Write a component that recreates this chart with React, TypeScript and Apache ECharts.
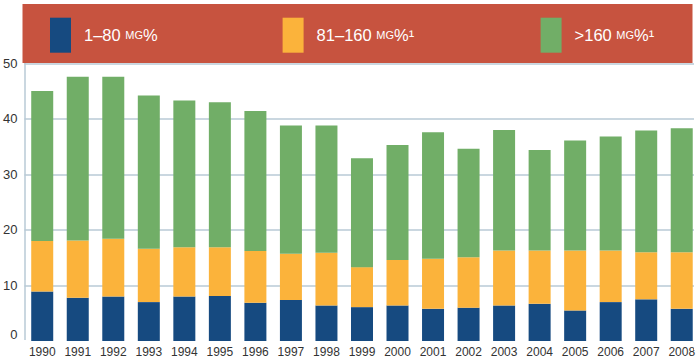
import React, { useEffect, useRef } from "react";
import * as echarts from "echarts";

const years = ["1990","1991","1992","1993","1994","1995","1996","1997","1998","1999","2000","2001","2002","2003","2004","2005","2006","2007","2008"];
// cumulative tops
const blueTop = [8.9,7.8,8.0,7.0,8.0,8.1,6.9,7.4,6.4,6.1,6.4,5.8,6.0,6.4,6.7,5.5,7.0,7.5,5.8];
const orangeTop = [18.0,18.1,18.4,16.6,16.9,16.9,16.2,15.7,15.9,13.3,14.6,14.8,15.1,16.3,16.3,16.3,16.3,16.0,16.0];
const greenTop = [45.0,47.6,47.6,44.2,43.3,43.0,41.4,38.8,38.8,32.9,35.3,37.6,34.6,38.0,34.4,36.1,36.8,37.9,38.3];

const low = blueTop;
const mid = orangeTop.map((v, i) => +(v - blueTop[i]).toFixed(1));
const high = greenTop.map((v, i) => +(v - orangeTop[i]).toFixed(1));

const seriesNames = ["1–80 mg%", "81–160 mg%¹", ">160 mg%¹"];
const legendRich: Record<string, string> = {
  "1–80 mg%": "{a|1–80 }{b|MG}{a|%}",
  "81–160 mg%¹": "{a|81–160 }{b|MG}{a|%¹}",
  ">160 mg%¹": "{a|>160 }{b|MG}{a|%¹}",
};
const colors = ["#164a80", "#fbb33b", "#71ae67"];
const yTicks = [0, 10, 20, 30, 40, 50];

export default function App() {
  const ref = useRef<HTMLDivElement>(null);
  useEffect(() => {
    if (!ref.current) return;
    const chart = echarts.init(ref.current, null, { renderer: "svg" });
    const font = "'Liberation Sans', Arial, Helvetica, sans-serif";
    const legendLefts = [50, 282.6, 540.6];
    chart.setOption({
      animation: false,
      textStyle: { fontFamily: font },
      graphic: [
        { type: "rect", z: 1, shape: { x: 22.5, y: 4, width: 670, height: 59 }, style: { fill: "#c7533f" } },
        { type: "rect", z: 1, shape: { x: 694, y: 60, width: 6, height: 290 }, style: { fill: "#ffffff" } },
      ],
      legend: seriesNames.map((n, i) => ({
        data: [n],
        left: legendLefts[i],
        top: 17.7,
        padding: 0,
        itemWidth: 21,
        itemHeight: 35,
        icon: "rect",
        z: 10,
        selectedMode: false,
        formatter: (name: string) => legendRich[name],
        textStyle: {
          color: "#ffffff",
          padding: [0, 0, 0, 8],
          rich: {
            a: { fontSize: 16.5, color: "#ffffff", fontFamily: font },
            b: { fontSize: 11, color: "#ffffff", fontFamily: font },
          },
        },
      })),
      grid: { left: 23.5, right: 0.5, top: 63.3, bottom: 20, containLabel: false },
      xAxis: {
        type: "category",
        data: years,
        axisLine: { show: true, lineStyle: { color: "#ffffff", width: 2 } },
        axisTick: { show: false },
        axisLabel: { color: "#333333", fontSize: 12, margin: 5, interval: 0, fontFamily: font },
      },
      yAxis: {
        type: "value",
        min: 0,
        max: 50,
        interval: 10,
        axisLine: { show: true, lineStyle: { color: "#b9cad6", width: 1.5 } },
        axisTick: { show: false },
        splitLine: { show: true, lineStyle: { color: "#b9cad6", width: 1.5 } },
        axisLabel: {
          color: "#333333",
          fontSize: 13,
          margin: 7,
          fontFamily: font,
          formatter: (v: number) => (v === yTicks[0] ? "{z|" + v + "}" : String(v)),
          rich: { z: { fontSize: 13, color: "#333333", padding: [0, 0, 14, 0], fontFamily: font } },
        },
      },
      series: [low, mid, high].map((d, i) => ({
        name: seriesNames[i],
        type: "bar",
        stack: "total",
        data: d,
        barWidth: 22,
        itemStyle: { color: colors[i] },
        z: 3,
      })),
    });
    return () => chart.dispose();
  }, []);
  return <div ref={ref} style={{ width: 700, height: 361, position: "absolute", left: 0, top: 0 }} />;
}
